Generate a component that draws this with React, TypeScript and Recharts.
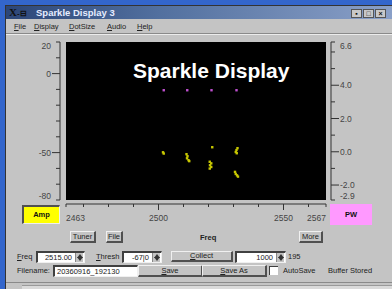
import { ScatterChart, Scatter, XAxis, YAxis, CartesianGrid } from "recharts";

// frequency axis (MHz)
const freqTicks = [2463, 2470, 2480, 2490, 2500, 2510, 2520, 2530, 2540, 2550, 2560, 2567];
const freqLabels = [2463, 2500, 2550, 2567];
const freqMajor = [2500, 2550];

// amplitude axis (left)
const ampTicks = [20, 10, 0, -10, -20, -30, -40, -50, -60, -70, -80];
const ampLabels = [20, 0, -50, -80];
const ampMajor = [0, -50];

// pulse width axis (right)
const pwTicks = [6.6, 6, 5, 4, 3, 2, 1, 0, -1, -2, -2.9];
const pwLabels = [6.6, 4, 2, 0, -2, -2.9];
const pwMajor = [4, 2, 0, -2];

// detected sparkles
const ampFreq = [
  2501.8, 2502.1,
  2511.2, 2511.6, 2511.4, 2512.0, 2512.3,
  2521.5,
  2520.5, 2521.1, 2520.6, 2521.1, 2520.5,
  2531.6, 2531.2, 2530.9, 2531.3,
  2530.6, 2530.9, 2531.4, 2531.8,
];
const ampValues = [
  -49.8, -50.6,
  -51.0, -52.3, -53.6, -54.8, -55.4,
  -46.6,
  -55.8, -56.8, -58.0, -59.1, -60.1,
  -47.2, -48.4, -49.6, -50.4,
  -62.2, -63.5, -64.4, -65.2,
];
const pwFreq = [2502.1, 2511.5, 2521.2, 2531.2];
const pwValues = [3.7, 3.7, 3.7, 3.7];

const ampData = ampFreq.map((f, i) => ({ freq: f, amp: ampValues[i] }));
const pwData = pwFreq.map((f, i) => ({ freq: f, pw: pwValues[i] }));

const FONT = '"Liberation Sans", Arial, sans-serif';
const AXIS = "#333";
const BG = "#c4c4c4";

function LeftTick({ x, y, payload }: any) {
  const v = payload.value;
  const len = ampMajor.includes(v) ? 8 : 4;
  const dy = v === 20 ? 4 : v === -80 ? -4 : 0;
  return (
    <g>
      <line x1={x - 6} x2={x - 6 - len} y1={y} y2={y} stroke={AXIS} strokeWidth={1} />
      {ampLabels.includes(v) && (
        <text x={x - 15} y={y + dy} textAnchor="end" dominantBaseline="central" fontSize={8.5} fill="#444" fontFamily={FONT}>
          {v}
        </text>
      )}
    </g>
  );
}

function RightTick({ x, y, payload }: any) {
  const v = payload.value;
  const len = pwMajor.includes(v) ? 8 : 4;
  const dy = v === 6.6 ? 4 : v === -2.9 ? -4 : 0;
  return (
    <g>
      <line x1={x + 5} x2={x + 5 + len} y1={y} y2={y} stroke={AXIS} strokeWidth={1} />
      {pwLabels.includes(v) && (
        <text x={x + 14} y={y + dy} textAnchor="start" dominantBaseline="central" fontSize={8.5} fill="#444" fontFamily={FONT}>
          {v.toFixed(1)}
        </text>
      )}
    </g>
  );
}

function BottomTick({ x, y, payload }: any) {
  const v = payload.value;
  const len = freqMajor.includes(v) ? 6 : 3;
  const anchor = v === 2463 ? "start" : v === 2567 ? "end" : "middle";
  return (
    <g>
      <line x1={x} x2={x} y1={y + 4} y2={y + 4 + len} stroke={AXIS} strokeWidth={1} />
      {freqLabels.includes(v) && (
        <text x={x} y={y + 18} textAnchor={anchor} dominantBaseline="central" fontSize={8.5} fill="#444" fontFamily={FONT}>
          {v}
        </text>
      )}
    </g>
  );
}

function Btn({ x, y, w, h, label, u }: any) {
  return (
    <div
      style={{
        position: "absolute", left: x, top: y, width: w, height: h, boxSizing: "border-box",
        borderTop: "1px solid #f0f0f0", borderLeft: "1px solid #f0f0f0",
        borderRight: "2px solid #505050", borderBottom: "2px solid #505050",
        background: BG, fontSize: 7.5, lineHeight: `${h - 3}px`, textAlign: "center", color: "#222",
      }}
    >
      {u ? <span style={{ textDecoration: "underline" }}>{label[0]}</span> : label[0]}
      {label.slice(1)}
    </div>
  );
}

function Spin({ x, y, h }: any) {
  return (
    <div style={{ position: "absolute", left: x, top: y, width: 8, height: h, background: BG, borderLeft: "1px solid #888", boxSizing: "border-box" }}>
      <div style={{ position: "absolute", left: 1, top: 1, width: 0, height: 0, borderLeft: "3px solid transparent", borderRight: "3px solid transparent", borderBottom: "4px solid #333" }} />
      <div style={{ position: "absolute", left: 1, bottom: 1, width: 0, height: 0, borderLeft: "3px solid transparent", borderRight: "3px solid transparent", borderTop: "4px solid #333" }} />
    </div>
  );
}

function Field({ x, y, w, h, value, align, spin }: any) {
  return (
    <div
      style={{
        position: "absolute", left: x, top: y, width: w, height: h, boxSizing: "border-box",
        borderTop: "2px solid #404040", borderLeft: "2px solid #404040",
        borderRight: "1px solid #f0f0f0", borderBottom: "1px solid #f0f0f0",
        background: "#fff", fontSize: 7.5, lineHeight: `${h - 3}px`, color: "#222",
        textAlign: align || "left", paddingLeft: 2, paddingRight: spin ? 12 : 2,
      }}
    >
      {value}
      {spin && <Spin x={w - 12} y={0} h={h - 3} />}
    </div>
  );
}

function Txt({ x, y, children, bold, size }: any) {
  return (
    <div style={{ position: "absolute", left: x, top: y, fontSize: size || 7.5, fontWeight: bold ? 700 : 400, color: "#222", whiteSpace: "nowrap", lineHeight: "10px" }}>
      {children}
    </div>
  );
}

function Dot(color: string) {
  return (p: any) => <rect x={p.cx - 1.2} y={p.cy - 1.2} width={2.4} height={2.4} fill={color} />;
}

export default function App() {
  return (
    <div style={{ position: "fixed", left: 0, top: 0, width: 392, height: 289, overflow: "hidden", background: "#3366cc", fontFamily: FONT }}>
      {/* window */}
      <div style={{ position: "absolute", left: 5, top: 5, width: 400, height: 300, background: BG, borderLeft: "1px solid #333", borderTop: "1px solid #333" }} />
      {/* title bar */}
      <div style={{ position: "absolute", left: 6, top: 6, width: 386, height: 13, background: "linear-gradient(90deg, #2c4678 0%, #52709f 40%, #8aa0c8 100%)" }} />
      <Txt x={9} y={7} size={11} bold>
        <span style={{ color: "#111", fontFamily: "serif" }}>X</span>
        <span style={{ color: "#111", fontSize: 8 }}>-⊟</span>
      </Txt>
      <Txt x={36} y={8} size={9.5} bold>
        <span style={{ color: "#e6ecff" }}>Sparkle Display 3</span>
      </Txt>
      {[351, 363, 375].map((bx, i) => (
        <div key={i} style={{ position: "absolute", left: bx, top: 9, width: 11, height: 9, background: "#c8c8c8", border: "1px solid #555", boxSizing: "border-box", fontSize: 7, lineHeight: "7px", textAlign: "center", fontWeight: 700, color: "#111" }}>
          {["▪", "□", "×"][i]}
        </div>
      ))}
      {/* menu */}
      {[
        ["File", 14],
        ["Display", 34],
        ["DotSize", 69],
        ["Audio", 107],
        ["Help", 137],
      ].map(([m, mx]: any) => (
        <Txt key={m} x={mx} y={22} size={7.5}>
          <span style={{ textDecoration: "underline" }}>{m[0]}</span>
          {m.slice(1)}
        </Txt>
      ))}
      <div style={{ position: "absolute", left: 6, top: 33, width: 386, height: 1, background: "#8a8a8a" }} />
      <div style={{ position: "absolute", left: 6, top: 34, width: 386, height: 1, background: "#ececec" }} />

      {/* chart */}
      <div style={{ position: "absolute", left: 0, top: 0 }}>
        <ScatterChart width={392} height={230} margin={{ top: 42, right: 0, bottom: 0, left: 0 }}>
          <CartesianGrid fill="#000" stroke="none" horizontal={false} vertical={false} xAxisId="f" yAxisId="amp" />
          <XAxis
            xAxisId="f"
            dataKey="freq"
            type="number"
            domain={[2463, 2567]}
            ticks={freqTicks}
            interval={0}
            height={30}
            tickSize={0}
            tickMargin={0}
            tickLine={false}
            axisLine={{ stroke: AXIS, transform: "translate(0,4)" }}
            tick={<BottomTick />}
          />
          <YAxis
            yAxisId="amp"
            dataKey="amp"
            type="number"
            domain={[-80, 20]}
            ticks={ampTicks}
            interval={0}
            width={66}
            tickSize={0}
            tickMargin={0}
            tickLine={false}
            axisLine={{ stroke: AXIS, transform: "translate(-6,0)" }}
            tick={<LeftTick />}
          />
          <YAxis
            yAxisId="pw"
            dataKey="pw"
            orientation="right"
            type="number"
            domain={[-2.9, 6.6]}
            ticks={pwTicks}
            interval={0}
            width={66}
            tickSize={0}
            tickMargin={0}
            tickLine={false}
            axisLine={{ stroke: AXIS, transform: "translate(5,0)" }}
            tick={<RightTick />}
          />
          <Scatter data={ampData} xAxisId="f" yAxisId="amp" fill="#c8c800" shape={Dot("#c8c800")} isAnimationActive={false} />
          <Scatter data={pwData} xAxisId="f" yAxisId="pw" fill="#c050d0" shape={Dot("#c050d0")} isAnimationActive={false} />
          <text x={133} y={78} fill="#fff" fontSize={21} fontWeight={700} fontFamily={FONT}>
            Sparkle Display
          </text>
        </ScatterChart>
      </div>

      {/* series boxes */}
      <div style={{ position: "absolute", left: 22, top: 205, width: 38, height: 19, boxSizing: "border-box", background: "#ffff00", borderTop: "2px solid #505050", borderLeft: "2px solid #505050", borderRight: "1px solid #eee", borderBottom: "1px solid #eee", fontSize: 7.5, fontWeight: 700, textAlign: "center", lineHeight: "15px", color: "#111" }}>
        Amp
      </div>
      <div style={{ position: "absolute", left: 330, top: 204, width: 42, height: 21, background: "#ff99ff", fontSize: 7.5, fontWeight: 700, textAlign: "center", lineHeight: "21px", color: "#111" }}>
        PW
      </div>

      <Btn x={70} y={231} w={26} h={12} label="Tuner" />
      <Btn x={106} y={231} w={17} h={12} label="File" />
      <Txt x={200} y={233} bold>Freq</Txt>
      <Btn x={299} y={231} w={24} h={12} label="More" />

      <Txt x={17} y={252}>
        <span style={{ textDecoration: "underline" }}>F</span>req
      </Txt>
      <Field x={36} y={251} w={49} h={12} value="2515.00" align="right" spin />
      <Txt x={96} y={252}>
        <span style={{ textDecoration: "underline" }}>T</span>hresh
      </Txt>
      <Field x={122} y={251} w={40} h={12} value="-67|0" align="right" spin />
      <Btn x={171} y={251} w={62} h={11} label="Collect" u />
      <Field x={235} y={251} w={51} h={12} value="1000" align="right" spin />
      <Txt x={288} y={252}>195</Txt>

      <Txt x={17} y={266}>Filename:</Txt>
      <Field x={53} y={265} w={85} h={12} value="20360916_192130" />
      <Btn x={138} y={265} w={65} h={12} label="Save" u />
      <Btn x={202} y={265} w={65} h={12} label="Save As" u />
      <div style={{ position: "absolute", left: 269, top: 266, width: 9, height: 9, background: "#fff", borderTop: "1px solid #404040", borderLeft: "1px solid #404040", boxSizing: "border-box" }} />
      <Txt x={283} y={266}>AutoSave</Txt>
      <Txt x={328} y={266}>Buffer Stored</Txt>

      <div style={{ position: "absolute", left: 6, top: 282, width: 386, height: 1, background: "#8a8a8a" }} />
      <div style={{ position: "absolute", left: 22, top: 285, width: 370, height: 10, background: "#dadada", borderTop: "1px solid #999" }} />
    </div>
  );
}
